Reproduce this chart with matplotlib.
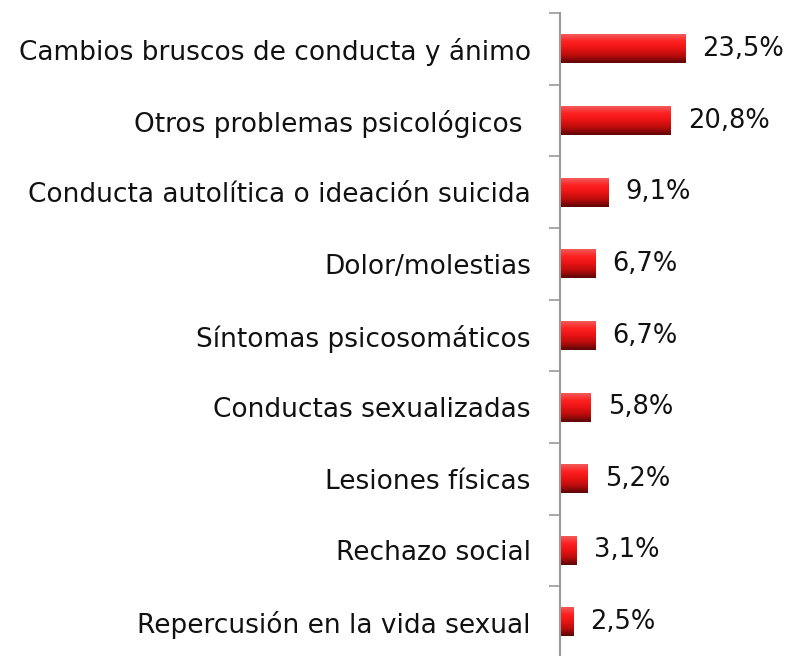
import numpy as np
import matplotlib.pyplot as plt
from matplotlib.colors import LinearSegmentedColormap

# data
categories = [
    "Cambios bruscos de conducta y ánimo",
    "Otros problemas psicológicos ",
    "Conducta autolítica o ideación suicida",
    "Dolor/molestias",
    "Síntomas psicosomáticos",
    "Conductas sexualizadas",
    "Lesiones físicas",
    "Rechazo social",
    "Repercusión en la vida sexual",
]
values = [23.5, 20.8, 9.1, 6.7, 6.7, 5.8, 5.2, 3.1, 2.5]
value_labels = ["23,5%", "20,8%", "9,1%", "6,7%", "6,7%", "5,8%", "5,2%", "3,1%", "2,5%"]

plt.rcParams['font.family'] = ['DejaVu Sans']

fig = plt.figure(figsize=(7.89, 6.56), dpi=100)
ax = fig.add_axes([560 / 789, -0.003, 1 - 560 / 789, 0.983])

y = np.arange(len(categories))
bars = ax.barh(y, values, height=0.4, color='none', edgecolor='none')

# vertical red gradient inside each bar (bright on top, dark at the bottom)
grad_cmap = LinearSegmentedColormap.from_list(
    "redbar", ["#f25a5a", "#ff2020", "#e81414", "#b80c0c", "#5c0606"])
grad = np.linspace(0, 1, 64).reshape(-1, 1)
for b in bars:
    x0, y0 = b.get_x(), b.get_y()
    w, h = b.get_width(), b.get_height()
    ax.imshow(grad, cmap=grad_cmap, aspect='auto', interpolation='bilinear',
              extent=(x0, x0 + w, y0, y0 + h), origin='lower', zorder=2)

for yi, v, lab in zip(y, values, value_labels):
    ax.text(v + 3.2, yi, lab, va='center', ha='left', fontsize=18.5, color='#111111')

ax.set_xlim(0, 43)
ax.set_ylim(len(categories) - 0.5, -0.5)

ax.set_yticks(y)
ax.set_yticklabels(categories, fontsize=19, color='#111111')
ax.set_yticks(np.arange(len(categories) + 1) - 0.5, minor=True)
ax.tick_params(axis='y', which='major', length=0, pad=21)
ax.tick_params(axis='y', which='minor', length=8, width=1.2, color='#9a9a9a')
ax.set_xticks([])

for s in ['top', 'right', 'bottom']:
    ax.spines[s].set_visible(False)
ax.spines['left'].set_color('#9a9a9a')
ax.spines['left'].set_linewidth(1.5)

fig.savefig('out.png', dpi=100)
